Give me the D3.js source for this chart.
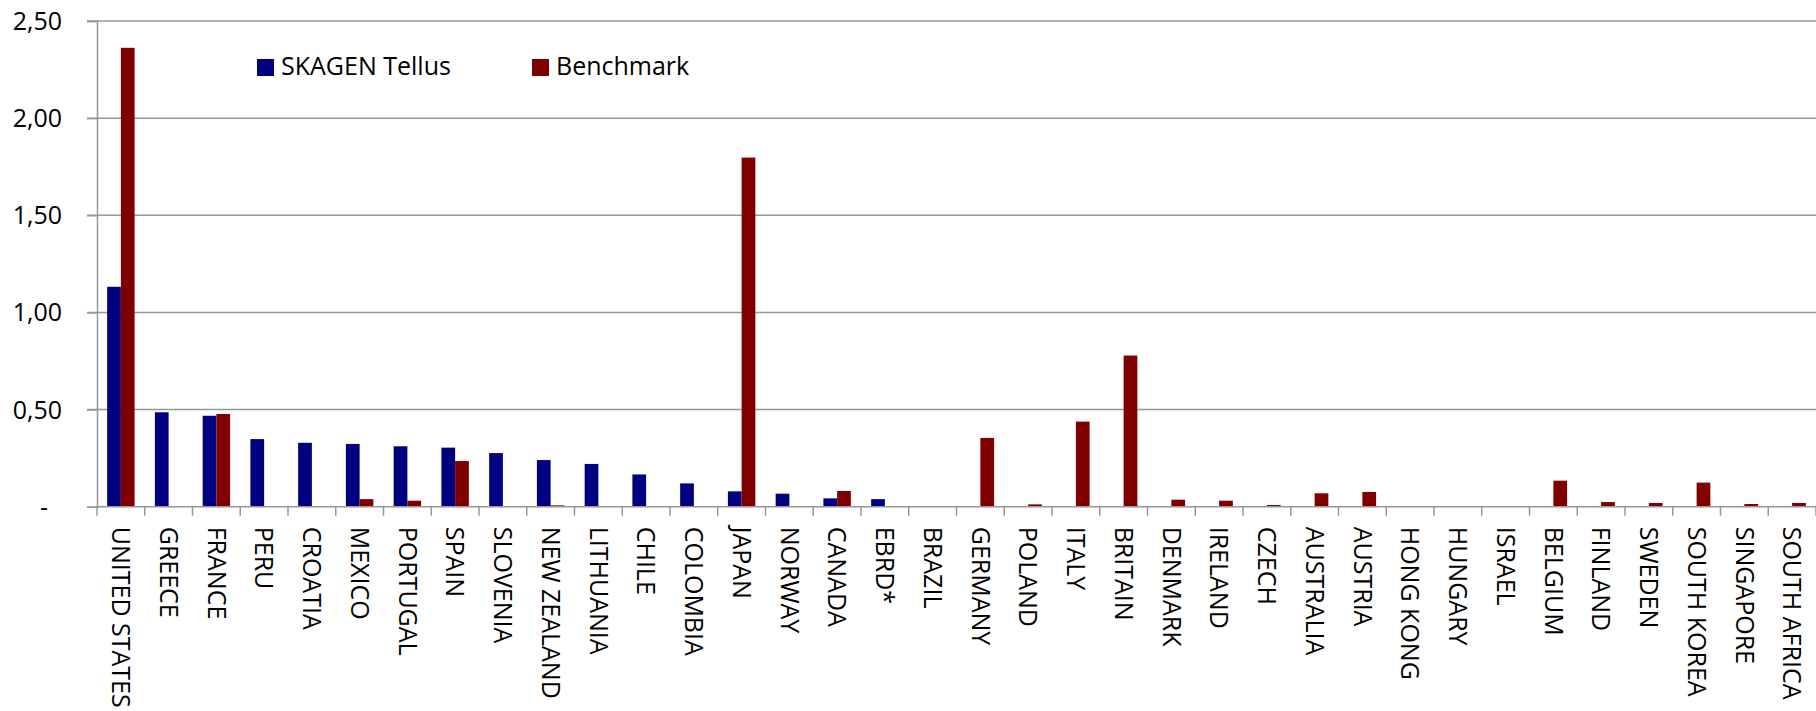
<!DOCTYPE html>
<html>
<head>
<meta charset="utf-8">
<script src="https://cdn.jsdelivr.net/npm/d3@7"></script>
<style>
  body { margin: 0; background: #fff; }
  text { font-family: "Open Sans", sans-serif; fill: #000; }
</style>
</head>
<body>
<script>
const w = 1816;
const h = 711;

const countries = ["UNITED STATES", "GREECE", "FRANCE", "PERU", "CROATIA", "MEXICO", "PORTUGAL", "SPAIN",
  "SLOVENIA", "NEW ZEALAND", "LITHUANIA", "CHILE", "COLOMBIA", "JAPAN", "NORWAY", "CANADA", "EBRD*",
  "BRAZIL", "GERMANY", "POLAND", "ITALY", "BRITAIN", "DENMARK", "IRELAND", "CZECH", "AUSTRALIA",
  "AUSTRIA", "HONG KONG", "HUNGARY", "ISRAEL", "BELGIUM", "FINLAND", "SWEDEN", "SOUTH KOREA",
  "SINGAPORE", "SOUTH AFRICA"];

const tellus = [1.132, 0.486, 0.468, 0.348, 0.329, 0.323, 0.311, 0.304, 0.276, 0.240, 0.220, 0.166,
  0.120, 0.079, 0.067, 0.043, 0.039, 0, 0, 0, 0, 0, 0, 0, 0, 0, 0, 0, 0, 0, 0, 0, 0, 0, 0, 0];

const benchmark = [2.362, 0, 0.477, 0, 0, 0.039, 0.031, 0.235, 0, 0.007, 0, 0, 0, 1.797, 0, 0.081, 0,
  0, 0.354, 0.012, 0.438, 0.778, 0.036, 0.031, 0.009, 0.069, 0.076, 0, 0.003, 0.003, 0.134, 0.024,
  0.019, 0.124, 0.014, 0.019];

const yTicks = [0, 0.5, 1, 1.5, 2, 2.5];

const seriesNames = ["SKAGEN Tellus", "Benchmark"];
const colors = { "SKAGEN Tellus": "#000080", "Benchmark": "#800000" };

const plotLeft = 97, plotRight = 1816, plotTop = 21, plotBottom = 506.7;
const fontSize = "25px";

const svg = d3.select("body")
  .append("svg")
  .attr("width", w)
  .attr("height", h);

const x0 = d3.scaleBand()
  .domain(countries)
  .range([plotLeft, plotRight])
  .padding(0);

const x1 = d3.scaleBand()
  .domain(seriesNames)
  .range([0, x0.bandwidth()])
  .paddingInner(0)
  .paddingOuter(0.74);

const y = d3.scaleLinear()
  .domain([0, 2.5])
  .range([plotBottom, plotTop]);

const loc = d3.formatLocale({ decimal: ",", thousands: " ", grouping: [3], currency: ["", ""] });
const fmt = loc.format(".2f");

// gridlines
svg.append("g")
  .selectAll("line")
  .data(yTicks.filter(d => d > 0))
  .enter()
  .append("line")
  .attr("x1", plotLeft - 10)
  .attr("x2", plotRight)
  .attr("y1", d => y(d))
  .attr("y2", d => y(d))
  .attr("stroke", "#979797")
  .attr("stroke-width", 1.5);

// y axis
const yAxis = svg.append("g")
  .attr("transform", "translate(" + plotLeft + ",0)")
  .call(d3.axisLeft(y).tickValues(yTicks).tickSize(10).tickPadding(35)
    .tickFormat(d => d === 0 ? "-" : fmt(d)));
yAxis.select(".domain").attr("stroke", "#979797").attr("stroke-width", 1.5);
yAxis.selectAll(".tick line").attr("stroke", "#979797").attr("stroke-width", 1.5);
yAxis.selectAll(".tick text")
  .style("font-size", fontSize)
  .attr("dy", "0.34em")
  .attr("x", d => d === 0 ? -49 : -35);

// bars
const rows = countries.map((c, i) => ({ country: c, values: [
  { key: "SKAGEN Tellus", value: tellus[i] },
  { key: "Benchmark", value: benchmark[i] }
] }));

const groups = svg.append("g")
  .selectAll("g")
  .data(rows)
  .enter()
  .append("g")
  .attr("transform", d => "translate(" + x0(d.country) + ",0)");

groups.selectAll("rect")
  .data(d => d.values.filter(v => v.value > 0))
  .enter()
  .append("rect")
  .attr("x", d => x1(d.key))
  .attr("y", d => y(d.value))
  .attr("width", x1.bandwidth())
  .attr("height", d => plotBottom - y(d.value))
  .attr("fill", d => colors[d.key]);

// x axis: labels centred, ticks between categories
const xAxis = svg.append("g")
  .attr("transform", "translate(0," + plotBottom + ")")
  .call(d3.axisBottom(x0).tickSize(0).tickPadding(0));
xAxis.select(".domain").remove();
xAxis.append("line")
  .attr("x1", plotLeft).attr("x2", plotRight)
  .attr("stroke", "#979797").attr("stroke-width", 1.5);
xAxis.selectAll(".tick text")
  .style("font-size", fontSize)
  .style("text-anchor", "start")
  .attr("transform", "rotate(90)")
  .attr("x", 20)
  .attr("y", 0)
  .attr("dy", "0.35em");

const bounds = countries.map(c => x0(c)).concat([plotRight]);
xAxis.selectAll(".sep")
  .data(bounds)
  .enter()
  .append("line")
  .attr("class", "sep")
  .attr("x1", d => d).attr("x2", d => d)
  .attr("y1", 0).attr("y2", 9)
  .attr("stroke", "#979797").attr("stroke-width", 1.5);

// legend
const legendX = [257, 532];
const legend = svg.append("g")
  .selectAll("g")
  .data(seriesNames)
  .enter()
  .append("g")
  .attr("transform", (d, i) => "translate(" + legendX[i] + ",59)");

legend.append("rect")
  .attr("width", 17)
  .attr("height", 17)
  .attr("fill", d => colors[d]);

legend.append("text")
  .attr("x", 24)
  .attr("y", 16)
  .style("font-size", fontSize)
  .text(d => d);
</script>
</body>
</html>
